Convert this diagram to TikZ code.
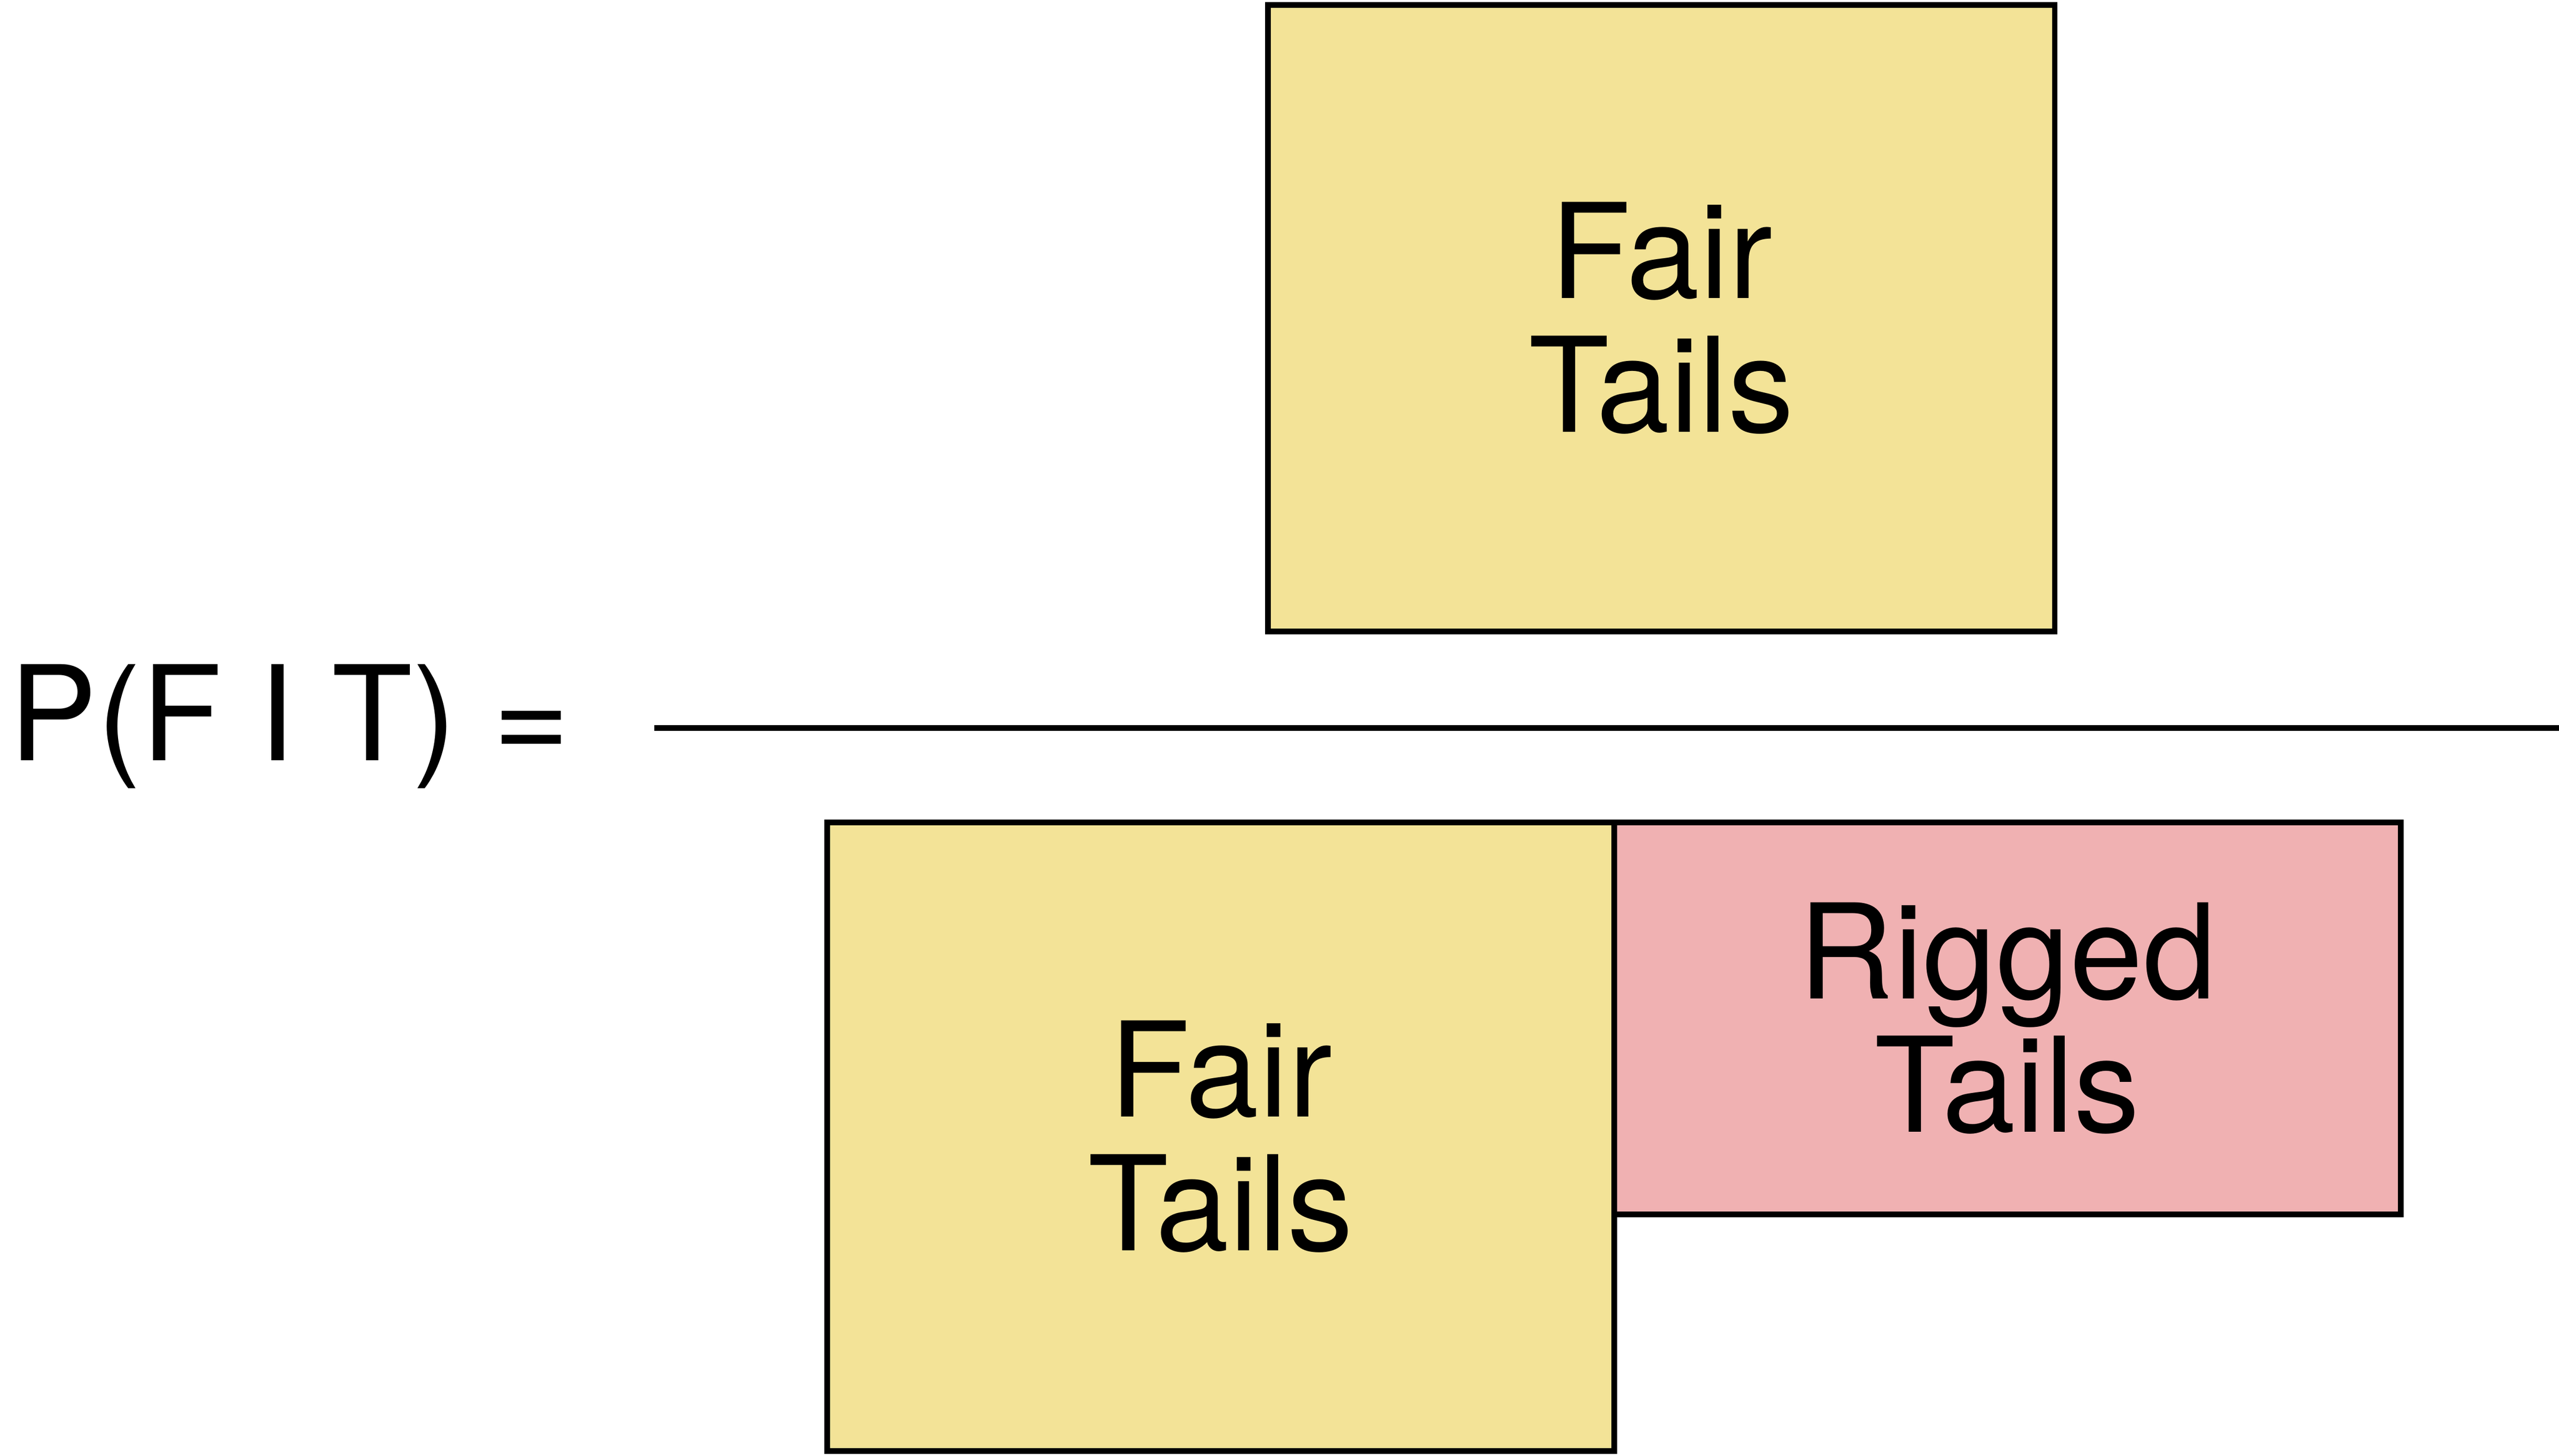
\documentclass[tikz,border=0pt]{standalone}
\usepackage{fontspec}
\setmainfont{TeX Gyre Heros}
\definecolor{fairyellow}{RGB}{243,227,151}
\definecolor{riggedpink}{RGB}{240,177,178}
\tikzset{
  bigtext/.style={font=\fontsize{23}{23.3}\selectfont},
  tailbox/.style={draw, line width=1pt, inner sep=0pt, align=center,
    minimum width=4.82cm, bigtext},
}
\begin{document}
\begin{tikzpicture}
  \useasboundingbox (0,0) rectangle (15.68,8.92);
  % Left-hand side
  \node[bigtext, anchor=base west, inner sep=0pt] (lhs) at (0.05,4.26) {P(F I T) =};

  % Fraction bar
  \coordinate (barl) at (4.01,4.46);
  \coordinate (barr) at (15.68,4.46);
  \draw[line width=1pt] (barl) -- (barr);

  % Numerator
  \node[tailbox, fill=fairyellow, minimum height=3.84cm] (numfair) at (10.18,6.97) {Fair\\Tails};

  % Denominator
  \node[tailbox, fill=fairyellow, minimum height=3.85cm] (denfair) at (7.48,1.955) {Fair\\Tails};
  \node[tailbox, fill=riggedpink, minimum height=2.40cm] (denrigged) at (12.30,2.68) {Rigged\\Tails};
\end{tikzpicture}
\end{document}
